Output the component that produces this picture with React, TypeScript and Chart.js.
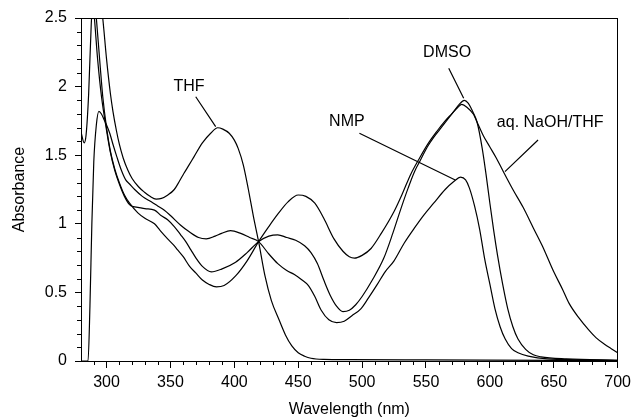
import React, { useEffect, useRef } from 'react';
import { Chart, registerables } from 'chart.js';

Chart.register(...registerables);

// ---- data (wavelength in nm, absorbance) ----
const thfWavelength = [280, 288, 293, 297, 300, 303, 305, 307.7, 310, 313, 316.7, 320, 325, 329.7, 334, 338.8, 343, 348, 353, 357, 360.7, 364, 368.5, 375, 381.5, 387, 391, 396, 400, 403, 407, 411, 415, 419, 424, 429, 435, 440, 445, 450, 455, 460, 470, 490, 550, 650, 700];
const thfAbsorbance = [3.4, 3.1, 2.8, 2.5, 2.2, 1.95, 1.82, 1.68, 1.58, 1.48, 1.39, 1.33, 1.27, 1.23, 1.2, 1.18, 1.185, 1.21, 1.25, 1.31, 1.37, 1.42, 1.49, 1.59, 1.66, 1.7, 1.69, 1.66, 1.61, 1.55, 1.43, 1.25, 1.05, 0.87, 0.62, 0.44, 0.3, 0.19, 0.11, 0.06, 0.035, 0.02, 0.012, 0.01, 0.008, 0.005, 0.003];

const nmpWavelength = [280, 285.5, 287, 288.5, 290, 292, 294, 296, 298, 300, 302.5, 305, 308, 311.6, 315, 318, 322, 328, 335, 340, 345, 350, 358, 365, 372, 378, 385, 390, 397, 405, 412, 419, 427, 434, 441, 447, 453, 458, 463, 468, 474, 480, 486, 492, 499, 505, 512, 518, 525, 533, 541, 548, 556, 565, 572, 577, 581, 584, 588, 592, 596, 600, 604, 608, 612, 617, 622, 630, 645, 700];
const nmpAbsorbance = [0, 0, 0.4, 1.0, 1.45, 1.72, 1.82, 1.8, 1.76, 1.72, 1.66, 1.58, 1.49, 1.39, 1.32, 1.29, 1.25, 1.2, 1.16, 1.13, 1.1, 1.06, 0.99, 0.94, 0.9, 0.89, 0.91, 0.93, 0.95, 0.93, 0.9, 0.87, 0.78, 0.71, 0.66, 0.63, 0.59, 0.55, 0.47, 0.37, 0.3, 0.28, 0.29, 0.33, 0.38, 0.46, 0.56, 0.65, 0.73, 0.86, 0.97, 1.06, 1.15, 1.25, 1.31, 1.34, 1.32, 1.26, 1.13, 0.96, 0.74, 0.56, 0.38, 0.25, 0.16, 0.09, 0.06, 0.035, 0.015, 0.005];

const dmsoWavelength = [280, 282.5, 284, 286, 288, 289.3, 290.5, 293, 296, 300, 303, 306.4, 310, 314, 318, 321, 324.5, 330, 337.5, 342.6, 347.8, 353, 358, 362, 366, 370, 375, 382, 390, 401, 410, 419, 427, 434, 441, 448, 455, 460, 465, 470, 475, 480, 485, 490, 495, 500, 508, 517, 524, 530, 536, 541, 546, 551, 556, 561, 566, 571, 576, 580, 583, 587, 590, 594, 597, 600, 603, 606, 610, 614, 618, 622, 628, 634, 640, 660, 700];
const dmsoAbsorbance = [1.67, 1.59, 1.65, 1.95, 2.45, 2.62, 2.5, 2.2, 1.93, 1.68, 1.52, 1.39, 1.29, 1.2, 1.14, 1.125, 1.12, 1.11, 1.1, 1.06, 1.03, 0.98, 0.92, 0.87, 0.81, 0.75, 0.69, 0.65, 0.67, 0.72, 0.79, 0.87, 0.91, 0.92, 0.9, 0.88, 0.84, 0.79, 0.71, 0.59, 0.48, 0.4, 0.36, 0.37, 0.41, 0.47, 0.59, 0.75, 0.93, 1.1, 1.26, 1.38, 1.47, 1.56, 1.63, 1.69, 1.75, 1.81, 1.87, 1.9, 1.88, 1.81, 1.74, 1.55, 1.36, 1.15, 0.95, 0.77, 0.56, 0.38, 0.25, 0.16, 0.085, 0.045, 0.03, 0.015, 0.005];

const naohWavelength = [280, 286, 290, 292, 295, 297, 300, 303, 306.4, 310, 314, 318, 324.5, 330, 337.5, 342, 347.8, 352, 355.6, 360, 365, 370, 375, 380, 386, 392, 401, 410, 419, 427, 434, 442, 450, 456, 463, 470, 478, 485, 490, 494, 500, 507, 515, 525, 532, 538, 545, 552, 559, 565, 570, 575, 578, 582, 587, 591, 595, 600, 605, 610, 618, 626, 634, 641, 650, 657, 662, 670, 677, 683, 690, 695, 700];
const naohAbsorbance = [3.3, 3.1, 2.75, 2.5, 2.15, 1.93, 1.7, 1.53, 1.4, 1.3, 1.21, 1.15, 1.08, 1.04, 1.0, 0.95, 0.89, 0.85, 0.81, 0.76, 0.69, 0.64, 0.59, 0.56, 0.54, 0.55, 0.62, 0.73, 0.87, 0.98, 1.07, 1.16, 1.21, 1.2, 1.15, 1.04, 0.89, 0.8, 0.76, 0.75, 0.77, 0.82, 0.93, 1.09, 1.23, 1.36, 1.48, 1.59, 1.68, 1.75, 1.8, 1.85, 1.87, 1.85, 1.8, 1.72, 1.64, 1.56, 1.48, 1.39, 1.25, 1.12, 0.97, 0.84, 0.65, 0.52, 0.42, 0.31, 0.23, 0.17, 0.12, 0.09, 0.06];

const seriesNames = ['THF', 'NMP', 'DMSO', 'aq. NaOH/THF'];

// annotation labels (in data units: nm, absorbance)
const labelTexts = ['THF', 'DMSO', 'NMP', 'aq. NaOH/THF'];
const labelWavelength = [364.6, 566.5, 488.1, 647.2];
const labelAbsorbance = [2.0, 2.245, 1.742, 1.738];
const leaderStartWavelength = [369.8, 567.8, 497.9, 637.7];
const leaderStartAbsorbance = [1.926, 2.133, 1.66, 1.611];
const leaderEndWavelength = [385.4, 579.5, 572.9, 611.8];
const leaderEndAbsorbance = [1.708, 1.915, 1.319, 1.38];

const X_MIN = 280;
const X_MAX = 700;
const Y_MIN = 0;
const Y_MAX = 2.5;

const FONT = "'Liberation Sans', Arial, Helvetica, sans-serif";

const toPoints = (xs: number[], ys: number[]) => xs.map((x, i) => ({ x, y: ys[i] }));

const extrasPlugin = {
  id: 'extras',
  afterDraw(chart: any) {
    const { ctx, chartArea, scales } = chart;
    const { left, right, top, bottom } = chartArea;
    const xs = scales.x;
    const ys = scales.y;
    ctx.save();
    ctx.strokeStyle = '#000';
    ctx.lineWidth = 1;
    // frame top & right
    ctx.beginPath();
    ctx.moveTo(left, Math.round(top) + 0.5);
    ctx.lineTo(right, Math.round(top) + 0.5);
    ctx.moveTo(Math.round(right) - 0.5, top);
    ctx.lineTo(Math.round(right) - 0.5, bottom);
    ctx.stroke();
    // minor ticks
    ctx.beginPath();
    for (let v = X_MIN + 10; v < X_MAX; v += 10) {
      if (v % 50 === 0) continue;
      const px = Math.round(xs.getPixelForValue(v)) + 0.5;
      ctx.moveTo(px, bottom);
      ctx.lineTo(px, bottom + 4);
    }
    for (let k = 1; k < 25; k++) {
      if (k % 5 === 0) continue;
      const py = Math.round(ys.getPixelForValue(k / 10)) + 0.5;
      ctx.moveTo(left, py);
      ctx.lineTo(left - 4, py);
    }
    ctx.stroke();
    // leaders
    ctx.lineWidth = 1.2;
    ctx.beginPath();
    for (let i = 0; i < labelTexts.length; i++) {
      ctx.moveTo(xs.getPixelForValue(leaderStartWavelength[i]), ys.getPixelForValue(leaderStartAbsorbance[i]));
      ctx.lineTo(xs.getPixelForValue(leaderEndWavelength[i]), ys.getPixelForValue(leaderEndAbsorbance[i]));
    }
    ctx.stroke();
    // labels
    ctx.fillStyle = '#000';
    ctx.font = `16px ${FONT}`;
    ctx.textAlign = 'center';
    ctx.textBaseline = 'middle';
    for (let i = 0; i < labelTexts.length; i++) {
      ctx.fillText(labelTexts[i], xs.getPixelForValue(labelWavelength[i]), ys.getPixelForValue(labelAbsorbance[i]));
    }
    ctx.restore();
  },
};

export default function App() {
  const canvasRef = useRef<HTMLCanvasElement | null>(null);

  useEffect(() => {
    document.body.style.margin = '0';
    const canvas = canvasRef.current;
    if (!canvas) return;
    const series = [
      toPoints(thfWavelength, thfAbsorbance),
      toPoints(nmpWavelength, nmpAbsorbance),
      toPoints(dmsoWavelength, dmsoAbsorbance),
      toPoints(naohWavelength, naohAbsorbance),
    ];
    const chart = new Chart(canvas, {
      type: 'scatter',
      data: {
        datasets: series.map((data, i) => ({
          label: seriesNames[i],
          data,
          showLine: true,
          borderColor: '#000',
          backgroundColor: '#000',
          borderWidth: 1.2,
          pointRadius: 0,
          pointHoverRadius: 0,
          fill: false,
          cubicInterpolationMode: 'monotone' as const,
        })),
      },
      options: {
        responsive: false,
        animation: false,
        events: [],
        layout: { padding: { left: 0, right: 14, top: 18, bottom: 0 } },
        plugins: {
          legend: { display: false },
          tooltip: { enabled: false },
        },
        scales: {
          x: {
            type: 'linear',
            position: 'bottom',
            min: X_MIN,
            max: X_MAX,
            afterFit: (s: any) => { s.height = 58; },
            ticks: {
              stepSize: 50,
              includeBounds: false,
              autoSkip: false,
              maxRotation: 0,
              color: '#000',
              padding: 5,
              font: { family: FONT, size: 16 },
              callback: (v: any) => String(v),
            },
            grid: { drawOnChartArea: false, tickLength: 7, tickColor: '#000', tickWidth: 1 },
            border: { color: '#000', width: 1 },
            title: {
              display: true,
              text: 'Wavelength (nm)',
              color: '#000',
              font: { family: FONT, size: 16 },
              padding: { top: 0, bottom: 0 },
            },
          },
          y: {
            type: 'linear',
            position: 'left',
            min: Y_MIN,
            max: Y_MAX,
            afterFit: (s: any) => { s.width = 81; },
            ticks: {
              stepSize: 0.5,
              color: '#000',
              padding: 8,
              font: { family: FONT, size: 16 },
              callback: (v: any) => String(Math.round(Number(v) * 10) / 10),
            },
            grid: { drawOnChartArea: false, tickLength: 6, tickColor: '#000', tickWidth: 1 },
            border: { color: '#000', width: 1 },
            title: {
              display: true,
              text: 'Absorbance',
              color: '#000',
              font: { family: FONT, size: 16 },
              padding: { top: 9.5, bottom: 0 },
            },
          },
        },
      },
      plugins: [extrasPlugin],
    });
    return () => chart.destroy();
  }, []);

  return (
    <div style={{ width: 636, height: 419, background: '#fff' }}>
      <canvas ref={canvasRef} width={636} height={419} />
    </div>
  );
}
